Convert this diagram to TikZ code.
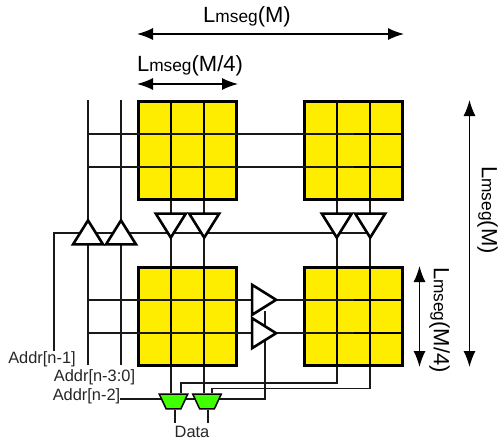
\documentclass[tikz,border=0pt]{standalone}
\usepackage{fontspec}
\setmainfont{Liberation Sans}
\usetikzlibrary{arrows.meta,backgrounds,shapes.geometric}
\definecolor{memyellow}{RGB}{255,237,0}
\definecolor{muxgreen}{RGB}{64,255,0}
\tikzset{%
      memblock/.style={draw, line width=3pt, fill=memyellow, minimum width=98pt, minimum height=98pt, inner sep=0pt},
      buffer/.style={draw, line width=2.6pt, fill=white, isosceles triangle, isosceles triangle stretches, minimum height=24pt, minimum width=30pt, inner sep=1pt, anchor=apex},
      upbuf/.style={buffer, shape border rotate=90},
      downbuf/.style={buffer, shape border rotate=-90},
      rightbuf/.style={buffer, shape border rotate=0},
      mux/.style={draw, line width=1.5pt, fill=muxgreen, trapezium, shape border rotate=180, trapezium left angle=65, trapezium right angle=65, minimum width=28.5pt, minimum height=14pt, inner sep=1pt},
      wire/.style={draw, line width=1.5pt, color=black!90},
      gridline/.style={draw, line width=1.5pt},
      span/.style={draw, line width=1.4pt, {Latex[length=16pt,width=12pt]}-{Latex[length=16pt,width=12pt]}},
      sizelabel/.style={font=\fontsize{22}{22}\selectfont, inner sep=0pt},
      addrlabel/.style={font=\fontsize{16.4}{16.4}\selectfont, color=black!85, inner sep=0pt},
    }
\newcommand{\lmseg}[1]{L{\fontsize{17.3}{17.3}\selectfont mseg}(#1)}
\newcommand{\memblockat}[3]{%
      \node (#1) [memblock] at (#2,#3) {};
      \coordinate (#1x1) at (#2-16.7,#3);
      \coordinate (#1x2) at (#2+16.7,#3);
      \coordinate (#1y1) at (#2,#3-16.7);
      \coordinate (#1y2) at (#2,#3+16.7);
      \path [gridline] (#1x1 |- #1.north) -- (#1x1 |- #1.south);
      \path [gridline] (#1x2 |- #1.north) -- (#1x2 |- #1.south);
      \path [gridline] (#1y1 -| #1.west) -- (#1y1 -| #1.east);
      \path [gridline] (#1y2 -| #1.west) -- (#1y2 -| #1.east);}

\begin{document}
\begin{tikzpicture}[x=1pt,y=-1pt]
      \useasboundingbox (0,0) rectangle (498,440);

      % Draw memory blocks
      \begin{scope}[on background layer]
        \memblockat{tl}{187.5}{150.45}
        \memblockat{tr}{353.5}{150.45}
        \memblockat{bl}{187.5}{316.5}
        \memblockat{br}{353.5}{316.5}
      \end{scope}

      % Draw buffers
      \node (ua) [upbuf] at (88,217) {};
      \node (ub) [upbuf] at (121,217) {};
      \node (da) [downbuf] at (170.8,241) {};
      \node (db) [downbuf] at (204.2,241) {};
      \node (dc) [downbuf] at (336.8,241) {};
      \node (dd) [downbuf] at (370.2,241) {};
      \node (ra) [rightbuf] at (279.5,299.8) {};
      \node (rb) [rightbuf] at (279.5,333.2) {};

      % Draw muxes
      \node (ma) [mux] at (173.5,401.5) {};
      \node (mb) [mux] at (207,401.5) {};

      % Draw labels
      \node (addra) [addrlabel] at (42,359) {Addr[n-1]};
      \node (addrb) [addrlabel] at (94.5,377) {Addr[n-3:0]};
      \node (addrc) [addrlabel] at (86.5,396) {Addr[n-2]};
      \node (data) [addrlabel] at (192,431.5) {Data};

      \coordinate (ena) at (54,233);
      \coordinate (enb) at (370,233);
      \coordinate (sela) at (181,383);
      \coordinate (selb) at (212,388.5);
      \coordinate (selc) at (265,399);
      \coordinate (busa) at (88,100);
      \coordinate (busb) at (121,100);
      \coordinate (busaend) at (88,365);
      \coordinate (busbend) at (121,365);
      \coordinate (outa) at (175,423);
      \coordinate (outb) at (208,423);

      % Draw wires
      \begin{scope}[on background layer]
        \path [wire] (busa) -- (busaend);
        \path [wire] (busb) -- (busbend);
        \path [wire] (busa |- tly1) -- (try1);
        \path [wire] (busa |- tly2) -- (try2);
        \path [wire] (busa |- bly1) -- (bry1);
        \path [wire] (busa |- bly2) -- (bry2);
        \path [wire] (tlx1 |- tl.south) -- (blx1 |- bl.north);
        \path [wire] (tlx2 |- tl.south) -- (blx2 |- bl.north);
        \path [wire] (trx1 |- tr.south) -- (brx1 |- br.north);
        \path [wire] (trx2 |- tr.south) -- (brx2 |- br.north);
        \path [wire] (ena |- addra.north) -- (ena) -- (enb);
        \path [wire] (blx1 |- bl.south) -- (blx1 |- ma.north);
        \path [wire] (blx2 |- bl.south) -- (blx2 |- mb.north);
        \path [wire] (brx1 |- br.south) -- (brx1 |- sela) -- (sela) -- (sela |- ma.north);
        \path [wire] (brx2 |- br.south) -- (brx2 |- selb) -- (selb) -- (selb |- mb.north);
        \path [wire] (addrc.east |- selc) -- (selc) -- (selc |- ra.south);
        \path [wire] (ma.south -| outa) -- (outa);
        \path [wire] (mb.south -| outb) -- (outb);
      \end{scope}

      % Draw size arrows
      \coordinate (spana) at (137,34);
      \coordinate (spanb) at (137,84);
      \coordinate (spanc) at (469.5,100);
      \coordinate (spand) at (419.5,266);
      \path [span] (spana) -- (spana -| tr.east);
      \path [span] (spanb) -- (spanb -| tl.east);
      \path [span] (spanc) -- (spanc |- br.south);
      \path [span] (spand) -- (spand |- br.south);

      \node (lbla) [sizelabel] at (247,17) {\lmseg{M}};
      \node (lblb) [sizelabel] at (190,66) {\lmseg{M/4}};
      \node (lblc) [sizelabel, rotate=-90] at (487.5,210) {\lmseg{M}};
      \node (lbld) [sizelabel, rotate=-90] at (439.5,320) {\lmseg{M/4}};

\end{tikzpicture}
\end{document}
